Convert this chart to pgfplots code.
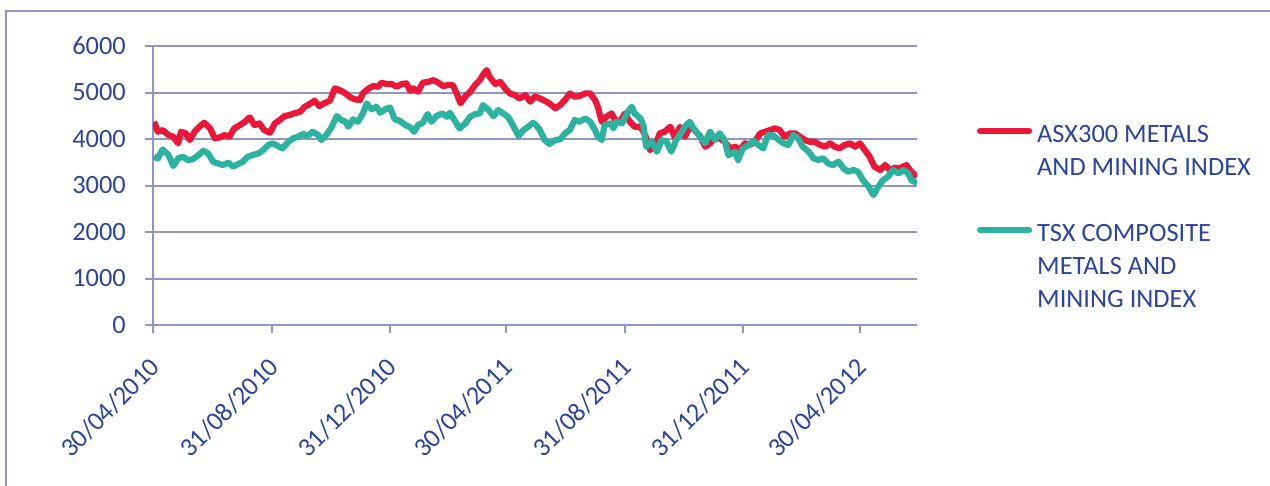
\documentclass[border=0pt]{standalone}
\usepackage{fontspec}
\setmainfont{Carlito}
\usepackage{pgfplots}
\pgfplotsset{compat=1.18}
\definecolor{asxred}{HTML}{EC1639}
\definecolor{tsxteal}{HTML}{2BB3A0}
\definecolor{txtblue}{HTML}{2A44A0}
\definecolor{gridcol}{HTML}{9096C4}

% x = days after 30/04/2010
\pgfplotstableread{
d v
1 4371
5 4156
10 4192
16 4085
21 4049
26 3906
29 4156
34 4120
38 3977
43 4156
48 4263
53 4350
59 4228
64 4013
69 4035
74 4085
79 4049
84 4228
90 4300
95 4371
100 4465
105 4300
110 4336
115 4192
121 4135
126 4336
131 4407
136 4493
141 4515
146 4551
152 4586
157 4694
162 4752
167 4823
172 4709
178 4780
183 4823
188 5089
193 5053
199 4981
204 4895
209 4852
214 4838
217 4981
223 5089
228 5138
233 5124
236 5210
242 5181
247 5181
252 5124
257 5181
262 5196
266 5038
269 5089
274 5017
279 5210
285 5231
290 5267
295 5210
300 5138
305 5160
310 5160
314 4981
318 4766
323 4916
328 5017
333 5160
338 5267
341 5375
345 5482
348 5339
354 5181
359 5231
364 5089
369 4981
374 4945
379 4873
385 4945
390 4802
395 4916
400 4873
405 4823
410 4766
416 4659
421 4730
426 4838
431 4981
436 4909
441 4924
447 4981
452 4981
457 4838
460 4694
464 4371
469 4479
474 4551
478 4407
483 4371
488 4551
493 4371
498 4264
504 4264
509 4085
514 3763
519 3834
524 4121
529 4157
535 4264
540 4014
545 4264
550 4049
555 4264
560 4193
566 4049
571 3834
576 3906
581 4014
586 4014
591 3941
597 3799
602 3834
607 3763
612 3906
617 3870
622 3941
628 4121
633 4157
638 4193
643 4229
648 4193
653 4049
659 4121
664 4121
669 4049
674 3978
679 3941
684 3941
690 3870
695 3834
700 3906
705 3834
710 3799
715 3870
721 3906
726 3834
731 3906
736 3763
741 3619
746 3404
752 3333
757 3440
762 3333
767 3383
772 3368
779 3440
784 3297
790 3189
}\asx

\pgfplotstableread{
d v
1 3619
5 3583
10 3776
16 3655
21 3419
26 3583
31 3619
36 3548
41 3562
47 3655
52 3748
57 3691
62 3512
67 3476
72 3440
78 3490
83 3404
88 3462
93 3512
98 3619
103 3655
109 3691
114 3763
119 3870
124 3906
129 3849
134 3799
140 3942
145 4013
150 4049
155 4107
160 4064
165 4156
171 4085
174 3977
179 4085
184 4228
190 4493
195 4407
199 4371
202 4263
207 4422
212 4371
217 4551
221 4766
226 4637
231 4694
235 4565
240 4637
245 4680
250 4422
255 4393
261 4300
266 4250
270 4156
274 4300
279 4350
284 4536
288 4371
293 4493
299 4551
304 4479
307 4565
312 4393
317 4228
323 4336
328 4479
333 4536
338 4551
341 4730
347 4622
352 4493
357 4622
362 4551
367 4479
373 4263
378 4064
383 4192
388 4263
393 4350
396 4300
400 4193
405 3978
410 3892
416 3978
421 3992
426 4121
431 4193
436 4408
441 4371
447 4443
452 4371
457 4193
460 4049
464 3978
467 4300
473 4336
476 4229
479 4371
485 4336
490 4551
495 4694
498 4551
504 4443
507 4300
510 3834
516 3941
521 3727
526 3978
531 3941
536 3727
541 3978
547 4157
550 4264
555 4371
560 4193
566 4049
571 3906
576 4157
581 3978
586 4121
591 3978
595 3655
598 3680
602 3727
605 3548
610 3799
616 3870
621 3963
626 3870
631 3799
636 4085
641 4085
647 3978
652 3906
657 3870
662 4085
667 4014
672 3834
678 3727
683 3584
688 3548
693 3584
698 3476
703 3440
709 3512
714 3368
719 3297
724 3333
729 3297
734 3118
740 2975
745 2795
750 2975
755 3118
760 3189
765 3333
771 3261
776 3333
781 3261
784 3118
790 3046
}\tsx

\begin{document}
\fontsize{13.2bp}{15bp}\selectfont
\begin{tikzpicture}
\useasboundingbox (-76.5bp,-80.5bp) rectangle (558.5bp,162.5bp);
\begin{axis}[
  scale only axis,width=382bp,height=139.5bp,
  xmin=0,xmax=790,ymin=0,ymax=6000,
  axis lines*=left,
  axis line style={gridcol,line width=1bp},
  ymajorgrids,grid style={gridcol,line width=1bp},
  ytick={0,1000,...,6000},
  xtick={0,123,245,365,488,610,731},
  xticklabels={30/04/2010,31/08/2010,31/12/2010,30/04/2011,31/08/2011,31/12/2011,30/04/2012},
  tick align=outside,major tick length=4bp,
  tick style={gridcol,line width=1bp},
  every tick label/.append style={text=txtblue,font=\fontsize{13.2bp}{15bp}\selectfont},
  /pgf/number format/assume math mode=true,
  scaled y ticks=false,
  yticklabel style={/pgf/number format/set thousands separator={},xshift=-5bp},
  % shifts below act in the rotated frame
  xticklabel style={rotate=45,anchor=east,inner sep=1bp,xshift=-8.5bp,yshift=-11.3bp},
  legend style={at={(1.0785,0.733)},anchor=north west,draw=none,fill=none,
    inner sep=0pt,outer sep=0pt,row sep=0pt,column sep=2.5bp,
    font=\fontsize{13.2bp}{15bp}\selectfont,text=txtblue,
    nodes={inner sep=0pt,text height=11bp,text depth=5.5bp,anchor=base west}},
  legend cell align=left,
]
\addplot[asxred,line width=3.1bp,line join=round,
  legend image code/.code={\draw[asxred,line width=3.1bp,line cap=round] (1.5bp,5.75bp) -- (26bp,5.75bp);}]
  table[x=d,y=v] {\asx};
\addlegendentry{ASX300 METALS}
\addlegendimage{empty legend}
\addlegendentry{AND MINING INDEX}
\addlegendimage{empty legend}
\addlegendentry{~}
\addplot[tsxteal,line width=3.1bp,line join=round,
  legend image code/.code={\draw[tsxteal,line width=3.1bp,line cap=round] (1.5bp,5.75bp) -- (26bp,5.75bp);}]
  table[x=d,y=v] {\tsx};
\addlegendentry{TSX COMPOSITE}
\addlegendimage{empty legend}
\addlegendentry{METALS AND}
\addlegendimage{empty legend}
\addlegendentry{MINING INDEX}
\end{axis}
\draw[gridcol,line width=1bp] (-73.5bp,-90bp) -- (-73.5bp,157bp) -- (600bp,157bp);
\end{tikzpicture}
\end{document}
